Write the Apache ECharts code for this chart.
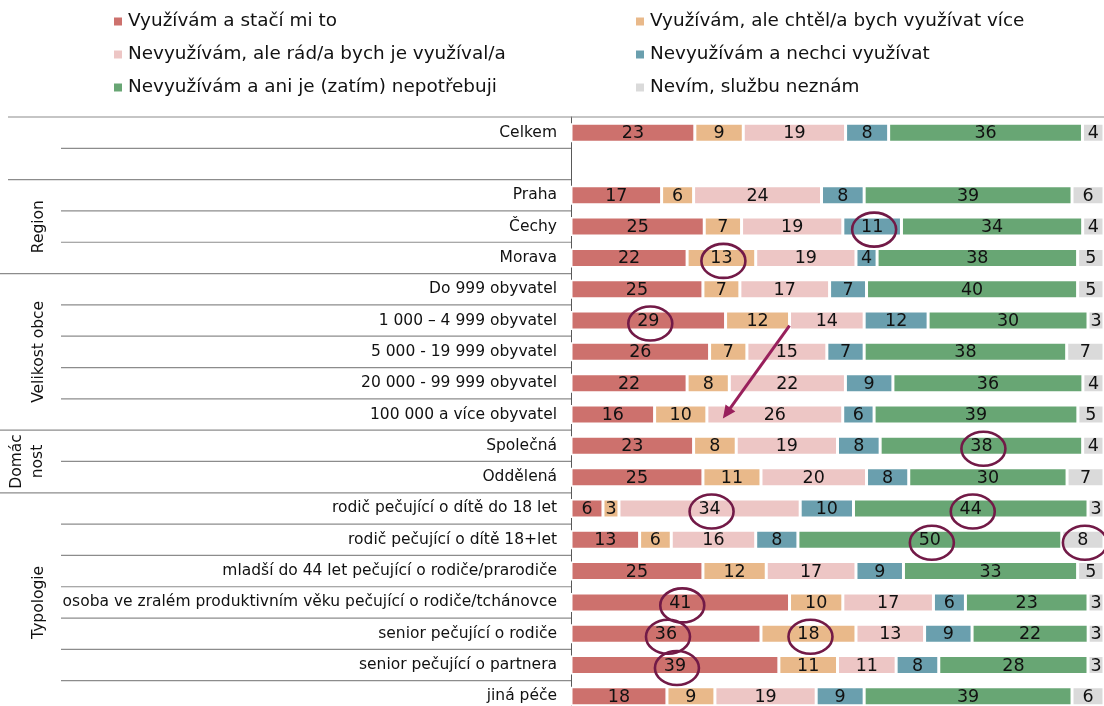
<!DOCTYPE html>
<html><head><meta charset="utf-8">
<script src="https://cdn.jsdelivr.net/npm/echarts@6/dist/echarts.min.js"></script>
<style>html,body{margin:0;padding:0;background:#fff;overflow:hidden}#c{width:1104px;height:712px}</style>
</head><body><div id="c"></div>
<script>
const categories = ['Celkem','','Praha','Čechy','Morava','Do 999 obyvatel','1 000 – 4 999 obyvatel','5 000 - 19 999 obyvatel','20 000 - 99 999 obyvatel','100 000 a více obyvatel','Společná','Oddělená','rodič pečující o dítě do 18 let','rodič pečující o dítě 18+let','mladší do 44 let pečující o rodiče/prarodiče','osoba ve zralém produktivním věku pečující o rodiče/tchánovce','senior pečující o rodiče','senior pečující o partnera','jiná péče'];
const seriesNames = ['Využívám a stačí mi to','Využívám, ale chtěl/a bych využívat více','Nevyužívám, ale rád/a bych je využíval/a','Nevyužívám a nechci využívat','Nevyužívám a ani je (zatím) nepotřebuji','Nevím, službu neznám'];
const vyuzivamStaci        = [23,null,17,25,22,25,29,26,22,16,23,25, 6,13,25,41,36,39,18];
const vyuzivamVice         = [ 9,null, 6, 7,13, 7,12, 7, 8,10, 8,11, 3, 6,12,10,18,11, 9];
const nevyuzivamRad        = [19,null,24,19,19,17,14,15,22,26,19,20,34,16,17,17,13,11,19];
const nevyuzivamNechci     = [ 8,null, 8,11, 4, 7,12, 7, 9, 6, 8, 8,10, 8, 9, 6, 9, 8, 9];
const nevyuzivamNepotrebuji= [36,null,39,34,38,40,30,38,36,39,38,30,44,50,33,23,22,28,39];
const nevimNeznam          = [ 4,null, 6, 4, 5, 5, 3, 7, 4, 5, 4, 7, 3, 8, 5, 3, 3, 3, 6];
const groups = [
  {name:'Region', from:2, to:4},
  {name:'Velikost obce', from:5, to:9},
  {name:'Domác\nnost', from:10, to:11},
  {name:'Typologie', from:12, to:18}
];
// highlighted labels: [row, series]
const circled = [[3,3],[4,1],[6,0],[10,4],[12,2],[12,4],[13,4],[13,5],[15,0],[16,0],[16,1],[17,0]];
// arrow: from end of series 1 in row 6 to start of series 2 in row 9
const arrowFrom = {row:6, series:1};
const arrowTo = {row:9, series:2};

const raw = [vyuzivamStaci, vyuzivamVice, nevyuzivamRad, nevyuzivamNechci, nevyuzivamNepotrebuji, nevimNeznam];
const colors = ['#cd716d','#e9b98a','#edc6c5','#6a9fae','#68a674','#dadada'];
const FONT = 'DejaVu Sans';
const rowSum = categories.map((c,i)=>raw.reduce((s,a)=>s+(a[i]||0),0));
const pct = raw.map(a=>a.map((v,i)=>v==null?null:v/rowSum[i]*100));

const chart = echarts.init(document.getElementById('c'));
const series = seriesNames.map((n,k)=>({
  name:n, type:'bar', stack:'t', barWidth:19,
  data:pct[k],
  itemStyle:{color:colors[k], borderColor:'#fff', borderWidth:1.5},
  label:{show:true, position:'inside', offset:[0,1], color:'#111', fontSize:17.5, fontFamily:FONT,
    formatter:p=>raw[k][p.dataIndex]==null?'':String(raw[k][p.dataIndex])},
  emphasis:{disabled:true}, animation:false
}));
const legendText = {fontSize:18.4, fontFamily:FONT, color:'#111', lineHeight:21};
chart.setOption({
  animation:false,
  legend:[
    {data:[seriesNames[0],seriesNames[2],seriesNames[4]], orient:'vertical', left:107, top:6,
     icon:'rect', itemWidth:10, itemHeight:10, itemGap:12, textStyle:legendText},
    {data:[seriesNames[1],seriesNames[3],seriesNames[5]], orient:'vertical', left:629, top:6,
     icon:'rect', itemWidth:10, itemHeight:10, itemGap:12, textStyle:legendText}
  ],
  grid:{left:571, right:0, top:117, bottom:0},
  xAxis:{type:'value', min:0, max:100, show:false},
  yAxis:{type:'category', data:categories, inverse:true,
    axisLine:{show:true, lineStyle:{color:'#595959', width:1}},
    axisTick:{show:false},
    axisLabel:{fontSize:15.5, fontFamily:FONT, color:'#111', margin:14}},
  series:series
});

function px(x,row){return chart.convertToPixel({gridIndex:0},[x,row]);}
const g = [];
const pitch = Math.abs(px(0,1)[1]-px(0,0)[1]);
const rowTop = r => px(0,r)[1]-pitch/2;
const axisX = px(0,0)[0];
const rightX = px(100,0)[0];
g.push({type:'line', shape:{x1:8,y1:rowTop(0),x2:rightX,y2:rowTop(0)}, style:{stroke:'#8c8c8c', lineWidth:1.2}, z:50});
const longAfter = [1,4,9,11];
for (let r=0;r<categories.length-1;r++){
  const y = px(0,r)[1]+pitch/2;
  const isLong = longAfter.includes(r);
  g.push({type:'line', shape:{x1:isLong?(r<2?8:0):61, y1:y, x2:axisX, y2:y}, style:{stroke:'#8c8c8c', lineWidth:1.2}, z:50});
}
groups.forEach(gr=>{
  const y = (px(0,gr.from)[1]+px(0,gr.to)[1])/2;
  g.push({type:'text', x:gr.name.includes('\n')?27:39, y:y, rotation:Math.PI/2,
    style:{text:gr.name, fontSize:15.5, fontFamily:FONT, fill:'#111', align:'center', verticalAlign:'middle', lineHeight:21}, z:50});
});
const cum = (row,k) => { let s=0; for(let j=0;j<k;j++) s+=pct[j][row]||0; return s; };
circled.forEach(([r,k])=>{
  const c = px(cum(r,k)+pct[k][r]/2, r);
  g.push({type:'ellipse', shape:{cx:c[0]+2, cy:c[1]+3, rx:22, ry:17}, style:{fill:'none', stroke:'#721a47', lineWidth:2.6}, z:60});
});
const a0 = px(cum(arrowFrom.row,arrowFrom.series+1), arrowFrom.row);
const a1 = px(cum(arrowTo.row,arrowTo.series)+3, arrowTo.row);
const x0=a0[0], y0=a0[1]+5, x1=a1[0], y1=a1[1]+4;
const ang = Math.atan2(y1-y0, x1-x0);
const hl=13, hw=6;
const bx = x1-hl*Math.cos(ang), by = y1-hl*Math.sin(ang);
g.push({type:'line', shape:{x1:x0,y1:y0,x2:bx+3*Math.cos(ang),y2:by+3*Math.sin(ang)}, style:{stroke:'#98205c', lineWidth:3}, z:60});
g.push({type:'polygon', shape:{points:[[x1,y1],[bx+hw*Math.sin(ang), by-hw*Math.cos(ang)],[bx-hw*Math.sin(ang), by+hw*Math.cos(ang)]]}, style:{fill:'#98205c'}, z:60});
chart.setOption({graphic:g});
</script>
</body></html>
